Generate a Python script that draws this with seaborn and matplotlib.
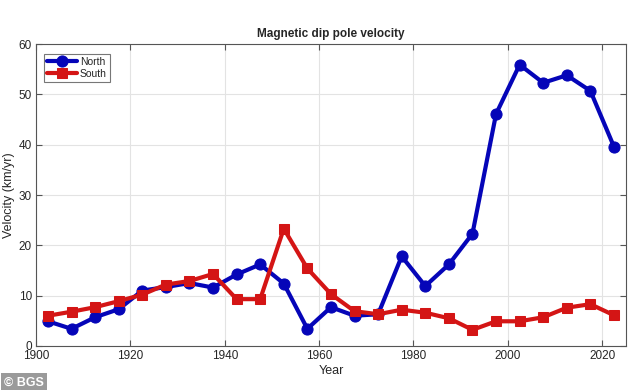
import numpy as np
import pandas as pd
import seaborn as sns
import matplotlib.pyplot as plt

# mid-points of five year intervals
years = [1902.5, 1907.5, 1912.5, 1917.5, 1922.5, 1927.5, 1932.5, 1937.5, 1942.5,
         1947.5, 1952.5, 1957.5, 1962.5, 1967.5, 1972.5, 1977.5, 1982.5, 1987.5,
         1992.5, 1997.5, 2002.5, 2007.5, 2012.5, 2017.5, 2022.5]
north = [4.9, 3.4, 5.7, 7.3, 11.0, 11.7, 12.5, 11.6, 14.2, 16.2, 12.4, 3.4, 7.7,
         6.0, 6.3, 17.8, 11.9, 16.2, 22.3, 46.1, 55.9, 52.3, 53.8, 50.7, 39.6]
south = [6.0, 6.8, 7.7, 8.9, 10.2, 12.2, 12.9, 14.3, 9.3, 9.3, 23.3, 15.4, 10.3,
         6.9, 6.3, 7.2, 6.6, 5.5, 3.2, 4.9, 4.9, 5.7, 7.6, 8.3, 6.1]

sns.set_style("whitegrid")
plt.rcParams['font.family'] = ['Liberation Sans', 'DejaVu Sans']

fig = plt.figure(figsize=(6.34, 3.9), dpi=100)
ax = fig.add_axes([0.057, 0.113, 0.93, 0.774])

sns.lineplot(x=years, y=north, ax=ax, color='#0505b8', linewidth=3,
             marker='o', markersize=8, markeredgecolor='#0505b8', label='North')
sns.lineplot(x=years, y=south, ax=ax, color='#d41515', linewidth=3,
             marker='s', markersize=7, markeredgecolor='#d41515', label='South')

ax.set_xlim(1900, 2025)
ax.set_ylim(0, 60)
ax.set_xticks(np.arange(1900, 2021, 20))
ax.set_yticks(np.arange(0, 61, 10))
ax.grid(color='#e3e3e3', linewidth=0.8)
for s in ax.spines.values():
    s.set_color('#555555')
    s.set_linewidth(0.8)
ax.tick_params(direction='in', length=4, labelsize=8.5, color='#555555',
               top=True, right=True, bottom=True, left=True, pad=3)
ax.set_xlabel('Year', fontsize=9, labelpad=2)
ax.set_ylabel('Velocity (km/yr)', fontsize=9, labelpad=3)
ax.set_title('Magnetic dip pole velocity', fontsize=8.5, fontweight='bold', pad=5)

leg = ax.legend(loc='upper left', fontsize=7.5, frameon=True, fancybox=False,
                edgecolor='#555555', handlelength=2.8, borderpad=0.3,
                labelspacing=0.2, handletextpad=0.3, bbox_to_anchor=(0.005, 0.985))
leg.get_frame().set_linewidth(0.8)

fig.text(0.006, 0.012, '\u00a9 BGS', fontsize=9, fontweight='bold', color='white',
         bbox=dict(boxstyle='square,pad=0.25', facecolor='#9a9a9a', edgecolor='none'))

fig.savefig('out.png', dpi=100)
